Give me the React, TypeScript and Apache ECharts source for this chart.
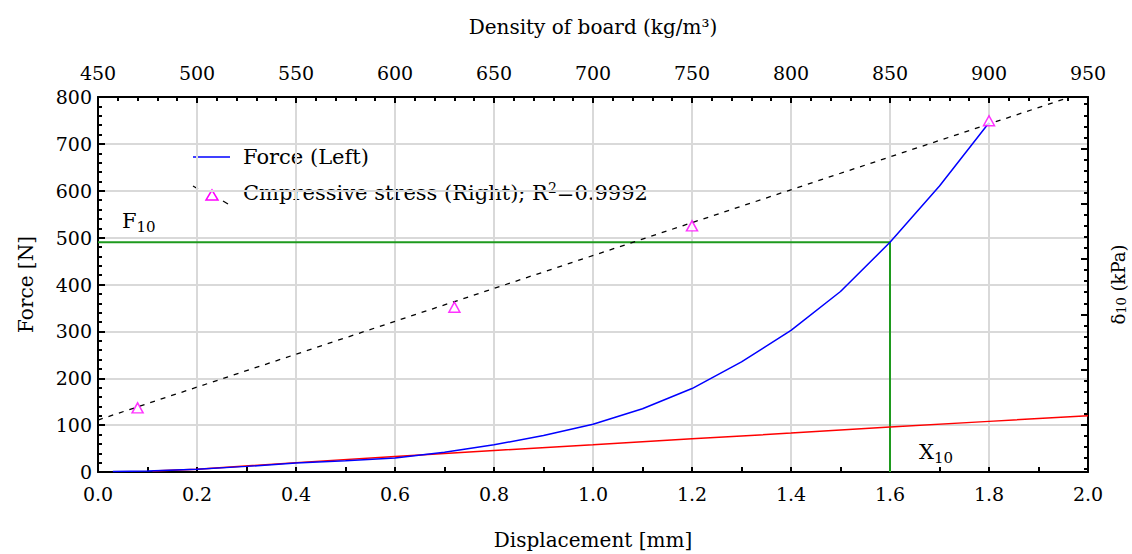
import React, { useEffect, useRef } from "react";
import * as echarts from "echarts";

// Displacement [mm] vs Force [N]
const forceX = [0.03, 0.1, 0.2, 0.3, 0.4, 0.5, 0.6, 0.7, 0.8, 0.9, 1.0, 1.1, 1.2, 1.3, 1.4, 1.5, 1.6, 1.7, 1.8];
const forceY = [1, 2, 6, 12, 19, 24, 30, 42, 58, 78, 102, 135, 178, 235, 302, 385, 490, 610, 745];

// second (unlabelled) force curve
const redX = [0.11, 0.2, 0.4, 0.6, 0.8, 1.0, 1.2, 1.4, 1.6, 1.8, 2.0];
const redY = [2, 6, 20, 33, 46, 58, 71, 83, 96, 108, 120];

// Compressive stress vs density of board
const densityPts = [470, 630, 750, 900];
const stressPts = [131, 313, 460, 650];
const fitDensity = [450, 941];
const fitStress = [109, 693];

// F10 / X10 reference
const x10 = 1.6;
const f10 = 490;

// axis ticks
const rightMajorTicks = [100, 200, 300, 400, 500, 600];
const rightMinorTicks = [20, 40, 60, 80, 120, 140, 160, 180, 220, 240, 260, 280, 320, 340, 360, 380, 420, 440, 460, 480, 520, 540, 560, 580, 620, 640, 660, 680];

const FONT = "'DejaVu Serif', 'Liberation Serif', serif";
const FS_TICK = 19;
const FS_NAME = 20;
const FS_LEG = 21;

export default function App() {
  const ref = useRef<HTMLDivElement>(null);
  useEffect(() => {
    const chart = echarts.init(ref.current!, null, { renderer: "svg" });
    const gridLine = { show: true, lineStyle: { color: "#d9d9d9", width: 2 } };
    const axisLine = { show: true, lineStyle: { color: "#000", width: 2 } };
    const label = { color: "#000", fontFamily: FONT, fontSize: FS_TICK };
    const nameStyle = { color: "#000", fontFamily: FONT, fontSize: FS_NAME };
    chart.setOption({
      animation: false,
      backgroundColor: "#fff",
      grid: { left: 98, right: 44, top: 97, bottom: 82, containLabel: false, outerBoundsMode: "none" },
      xAxis: [
        {
          type: "value", position: "bottom", min: 0, max: 2, interval: 0.2,
          axisLine, splitLine: gridLine,
          axisTick: { show: true, inside: true, length: 5, lineStyle: { color: "#000", width: 2 } },
          minorTick: { show: true, splitNumber: 2, length: 5, lineStyle: { color: "#000", width: 2 } },
          axisLabel: { ...label, margin: 12, formatter: (v: number) => v.toFixed(1) },
          name: "Displacement [mm]", nameLocation: "middle", nameGap: 58, nameTextStyle: nameStyle,
        },
        {
          type: "value", position: "top", min: 450, max: 950, interval: 50,
          axisLine, splitLine: { show: false },
          axisTick: { show: true, inside: true, length: 6, lineStyle: { color: "#000", width: 2 } },
          minorTick: { show: true, splitNumber: 5, length: 4, lineStyle: { color: "#000", width: 2 } },
          axisLabel: { ...label, margin: 15 },
          name: "Density of board (kg/m³)", nameLocation: "middle", nameGap: 60, nameTextStyle: nameStyle,
        },
      ],
      yAxis: [
        {
          type: "value", position: "left", min: 0, max: 800, interval: 100,
          axisLine, splitLine: gridLine,
          axisTick: { show: true, inside: true, length: 7, lineStyle: { color: "#000", width: 2 } },
          minorTick: { show: true, splitNumber: 5, length: 4, lineStyle: { color: "#000", width: 2 } },
          axisLabel: { ...label, margin: 6 },
          name: "Force [N]", nameLocation: "middle", nameGap: 62, nameRotate: 90, nameTextStyle: nameStyle,
        },
        {
          type: "value", position: "right", min: 15, max: 693,
          axisLine, splitLine: { show: false },
          axisTick: { show: true, inside: true, length: 7, customValues: rightMajorTicks, lineStyle: { color: "#000", width: 2 } },
          axisLabel: { show: false },
          name: "δ{s|10} (kPa)", nameLocation: "middle", nameGap: 21, nameRotate: 90,
          nameTextStyle: { ...nameStyle, fontSize: 18, rich: { s: { fontFamily: FONT, fontSize: 13, color: "#000", padding: [6, 0, 0, 0] } } },
        },
        {
          type: "value", position: "right", min: 15, max: 693,
          axisLine: { show: false }, splitLine: { show: false },
          axisTick: { show: true, inside: true, length: 4, customValues: rightMinorTicks, lineStyle: { color: "#000", width: 2 } },
          axisLabel: { show: false },
        },
      ],
      series: [
        {
          name: "Force (Left)", type: "line", xAxisIndex: 0, yAxisIndex: 0, showSymbol: false,
          data: forceX.map((x, i) => [x, forceY[i]]),
          lineStyle: { color: "#0000ff", width: 1.5 }, z: 5,
        },
        {
          name: "red", type: "line", xAxisIndex: 0, yAxisIndex: 0, showSymbol: false,
          data: redX.map((x, i) => [x, redY[i]]),
          lineStyle: { color: "#ff0000", width: 1.5 }, z: 4,
        },
        {
          name: "ref", type: "line", xAxisIndex: 0, yAxisIndex: 0, showSymbol: false,
          data: [[0, f10], [x10, f10], [x10, 0]],
          lineStyle: { color: "#1e9a1e", width: 2 }, z: 3,
        },
        {
          name: "fit", type: "line", xAxisIndex: 1, yAxisIndex: 1, showSymbol: false,
          data: fitDensity.map((x, i) => [x, fitStress[i]]),
          lineStyle: { color: "#000", width: 1.3, type: [5, 6] }, z: 3,
        },
        {
          name: "Cmpressive stress (Right)", type: "scatter", xAxisIndex: 1, yAxisIndex: 1,
          symbol: "triangle", symbolSize: [11, 10],
          data: densityPts.map((x, i) => [x, stressPts[i]]),
          itemStyle: { color: "#fff", borderColor: "#ff00ff", borderWidth: 1.5 }, z: 6,
        },
      ],
      graphic: [
        { type: "line", shape: { x1: 193, y1: 157, x2: 230, y2: 157 }, style: { stroke: "#0000ff", lineWidth: 1.5 } },
        { type: "text", x: 243, y: 157, style: { text: "Force (Left)", font: `${FS_LEG}px ${FONT}`, fill: "#000", verticalAlign: "middle" } },
        { type: "line", shape: { x1: 193, y1: 186, x2: 198, y2: 189 }, style: { stroke: "#000", lineWidth: 1.3 } },
        { type: "line", shape: { x1: 223, y1: 201, x2: 228, y2: 204 }, style: { stroke: "#000", lineWidth: 1.3 } },
        { type: "polygon", shape: { points: [[212, 190], [206, 200], [218, 200]] }, style: { fill: "#fff", stroke: "#ff00ff", lineWidth: 1.5 } },
        {
          type: "text", x: 243, y: 193,
          style: {
            text: "Cmpressive stress (Right); R{sup|2}=0.9992",
            font: `${FS_LEG}px ${FONT}`, fill: "#000", verticalAlign: "middle",
            rich: { sup: { fontFamily: FONT, fontSize: 14, fill: "#000", padding: [0, 0, 10, 0] } },
          },
        },
        {
          type: "text", x: 122, y: 221,
          style: { text: "F{s|10}", font: `${FS_LEG}px ${FONT}`, fill: "#000", verticalAlign: "middle",
            rich: { s: { fontFamily: FONT, fontSize: 15, fill: "#000", padding: [12, 0, 0, 0] } } },
        },
        {
          type: "text", x: 919, y: 452,
          style: { text: "X{s|10}", font: `${FS_LEG}px ${FONT}`, fill: "#000", verticalAlign: "middle",
            rich: { s: { fontFamily: FONT, fontSize: 15, fill: "#000", padding: [12, 0, 0, 0] } } },
        },
      ],
    });
    return () => chart.dispose();
  }, []);
  return <div ref={ref} style={{ position: "fixed", left: 0, top: 0, width: 1132, height: 554 }} />;
}
